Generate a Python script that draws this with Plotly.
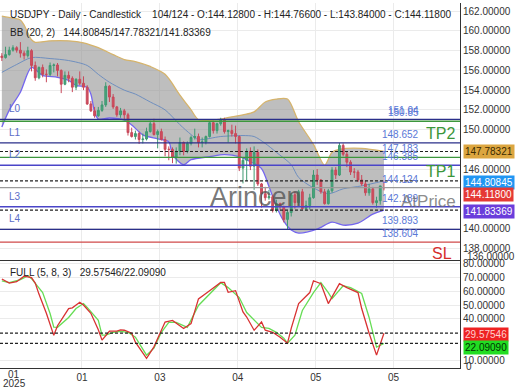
import plotly.graph_objects as go

# ---------------- data ----------------
# candle index 0..103 (daily bars), 124 slots on the axis
opens = [157.45,157.30,157.60,158.05,158.30,158.05,157.75,157.50,158.00,156.50,
         155.25,156.30,155.60,155.60,156.50,156.55,156.00,154.60,155.50,155.20,
         154.30,155.10,154.70,154.30,152.60,151.90,151.40,151.95,152.50,154.40,
         153.30,152.30,151.50,151.90,151.50,149.70,149.30,149.60,149.00,149.05,
         149.80,150.60,149.50,149.80,149.00,148.00,148.00,147.20,147.80,148.70,
         147.80,148.60,149.20,149.30,148.70,148.75,149.30,150.70,149.90,150.60,
         151.00,149.80,149.90,149.60,149.30,146.10,146.90,147.80,146.30,147.70,
         144.50,143.50,143.10,143.20,141.80,142.50,142.20,140.90,141.60,143.40,
         142.60,143.70,142.00,142.30,143.10,145.40,144.90,143.70,142.50,143.80,
         145.90,145.40,148.40,147.50,146.70,145.70,145.70,144.90,144.50,143.60,
         144.00,142.60,142.80,144.128]
highs = [157.75,158.40,158.40,158.55,158.45,158.87,158.00,158.40,158.15,156.90,
         156.40,156.60,156.10,156.80,156.70,156.75,156.10,155.90,155.90,155.40,
         155.20,155.90,155.40,154.50,152.90,152.30,152.30,152.90,154.80,154.50,
         153.60,152.40,152.20,152.10,151.70,150.20,149.90,149.80,149.60,150.20,
         150.90,151.10,150.00,150.10,149.30,148.30,148.20,148.20,149.20,148.80,
         148.80,149.40,150.10,149.60,149.20,149.40,150.80,150.90,150.70,151.20,
         151.20,150.00,150.50,150.40,149.40,147.20,148.10,148.20,148.30,148.00,
         144.60,144.20,143.90,143.40,142.90,142.60,142.30,141.80,143.60,143.70,
         143.90,144.00,142.80,143.50,145.90,146.00,145.00,144.00,144.00,146.20,
         146.20,148.65,148.60,147.80,146.90,146.10,145.90,145.40,144.80,144.50,
         144.20,143.20,144.30,144.766]
lows = [156.95,157.20,157.50,157.90,157.80,157.30,157.10,157.30,155.90,154.95,
        155.10,155.30,154.80,155.40,155.80,155.40,153.70,154.50,154.80,153.80,
        154.00,154.50,154.00,152.50,151.80,151.20,151.30,151.80,152.30,152.80,
        152.10,151.30,151.20,151.00,149.40,149.20,149.00,148.55,148.60,148.90,
        149.70,149.40,148.10,148.90,147.30,146.90,146.60,146.55,147.40,147.40,
        147.60,148.40,149.00,148.20,148.20,148.50,149.20,149.60,149.60,150.40,
        149.60,148.70,149.30,148.60,145.80,144.55,144.80,145.90,143.90,144.30,
        142.10,142.80,142.90,141.60,141.60,141.90,140.60,139.89,141.20,142.00,
        142.30,141.90,141.80,141.90,143.00,144.40,143.50,142.40,142.40,143.60,
        145.00,145.30,147.30,146.20,145.40,145.10,144.70,144.30,143.30,143.30,
        142.40,142.10,142.40,143.84]
closes = [157.30,157.60,158.05,158.30,158.05,157.75,157.50,158.00,156.50,155.25,
          156.30,155.60,155.60,156.50,156.55,156.00,154.60,155.50,155.20,154.30,
          155.10,154.70,154.30,152.60,151.90,151.40,151.95,152.50,154.40,153.30,
          152.30,151.50,151.90,151.50,149.70,149.30,149.60,149.00,149.05,149.80,
          150.60,149.50,149.80,149.00,148.00,148.00,147.20,147.80,148.70,147.80,
          148.60,149.20,149.30,148.70,148.75,149.30,150.70,149.90,150.60,151.00,
          149.80,149.90,149.60,149.30,146.10,146.90,147.80,146.30,147.70,144.50,
          143.50,143.10,143.20,141.80,142.50,142.20,140.90,141.60,143.40,142.60,
          143.70,142.00,142.30,143.10,145.40,144.90,143.70,142.50,143.80,145.90,
          145.40,148.40,147.50,146.70,145.70,145.70,144.90,144.50,143.60,144.00,
          142.60,142.80,144.30,144.118]
bar_index = list(range(len(closes)))

# Bollinger bands (20,2)
bb_upper_x = [0, 3, 5, 6, 7, 8, 9, 13, 18, 22, 26, 30, 33, 36, 40, 44, 48, 51, 53, 56,
              59, 62, 65, 68, 71, 74, 77, 80, 84, 87, 89, 91, 97, 103]
bb_upper = [161.5, 161.3, 161.1, 160.6, 159.8, 159.1, 158.85, 159.0, 159.0, 158.8,
            158.3, 157.6, 157.1, 156.9, 156.4, 155.6, 153.5, 152.0, 151.0, 150.95,
            151.07, 151.3, 151.5, 151.8, 152.8, 153.1, 153.1, 150.8, 148.5, 146.4,
            147.7, 148.0, 148.1, 147.78321]
bb_lower_x = [0, 2, 5, 8, 11, 15, 18, 20, 23, 24, 25, 26, 29, 33, 35, 38, 42, 45, 46,
              49, 51, 56, 60, 64, 67, 70, 72, 74, 76, 78, 80, 85, 89, 92, 96, 100, 103]
bb_lower = [150.27, 151.98, 153.79, 156.3, 155.5, 155.3, 154.99, 154.49, 154.29,
            153.59, 151.78, 151.07, 151.18, 150.97, 150.47, 149.47, 149.07, 148.76,
            147.46, 146.45, 146.95, 147.26, 147.46, 147.26, 146.75, 146.05, 144.24,
            142.23, 140.72, 139.82, 139.52, 139.92, 140.62, 140.32, 140.52, 141.43,
            141.83369]
bb_mid_x = [0, 4, 8, 13, 18, 23, 26, 29, 33, 36, 40, 44, 48, 51, 53, 59, 65, 68, 71,
            74, 78, 80, 84, 88, 92, 97, 103]
bb_mid = [155.8, 156.6, 157.3, 157.2, 157.0, 156.5, 155.6, 154.8, 154.0, 153.6, 152.8,
          152.0, 150.5, 149.5, 149.0, 149.3, 149.4, 149.3, 148.6, 147.7, 146.45, 145.15,
          144.1, 143.5, 144.0, 144.3, 144.80845]

# Full stochastic (5,8,3)
stoch_k_x = [0, 2, 4, 6, 8, 9, 10, 12, 14, 15, 16, 18, 19, 21, 22, 24, 26, 27, 29, 31,
             32, 33, 35, 36, 39, 41, 43, 44, 46, 49, 51, 53, 56, 59, 60, 61, 63, 65, 66,
             68, 70, 71, 73, 75, 77, 78, 80, 83, 84, 86, 88, 91, 93, 96, 97, 99, 101, 103]
stoch_k = [69, 66, 67, 71, 70, 66, 58, 44, 28, 35, 39, 47.5, 48, 52, 50, 44, 32, 24.5,
           31, 31, 32, 31.7, 29.5, 23, 11.3, 19.6, 31.7, 37.7, 38.9, 33, 36.5, 54.5,
           60.5, 66.5, 66.5, 59.3, 60.5, 45, 41.3, 31.7, 37.7, 31.7, 30.2, 26.6, 22.3,
           33.1, 51.1, 59.1, 67.7, 65.6, 51.1, 65.6, 62.7, 59.1, 47.5, 29.5, 13.6, 29.57546]
stoch_d_x = [0, 2, 5, 7, 8, 11, 13, 14, 15, 18, 20, 22, 23, 26, 27, 28, 30, 32, 34, 36,
             39, 41, 43, 45, 47, 50, 53, 56, 59, 61, 64, 66, 69, 70, 72, 74, 76, 77, 79,
             81, 84, 86, 88, 89, 92, 94, 97, 99, 101, 103]
stoch_d = [67.7, 66.3, 68.5, 71.3, 69.2, 59.1, 43.9, 34, 33.8, 41.0, 47.5, 51.1, 48.3,
           38.9, 28.1, 28.1, 30.2, 30.9, 30.2, 26.6, 13.6, 18.7, 30.2, 37.4, 37.4, 33.8,
           49.7, 58.4, 66.3, 62.7, 55.5, 44.6, 36.7, 33.8, 33.1, 30.2, 25.9, 22.3, 28.1,
           46.1, 59.1, 66.3, 59.1, 54.7, 64.1, 62.7, 58.4, 41.0, 19.4, 22.0909]

# level lines
level_names = ["L0", "L1", "L2", "L3", "L4"]
level_values = [151.04, 148.652, 146.385, 142.189, 139.893]
tp_values = [150.85, 147.183]
sl_value = 138.604
level_label_values = [151.04, 150.85, 148.652, 147.183, 146.385, 144.124, 142.189, 139.893, 138.604]
last_price = 144.118

x_tick_vals = [21.6, 42.6, 63.6, 84.6, 105.6]
x_tick_text = ["01", "03", "04", "05", "05"]
price_ticks = [138, 140, 146, 150, 152, 154, 156, 158, 160, 162]
stoch_ticks = [10, 40, 50, 60, 70, 80]

# ---------------- geometry ----------------
H_PLOT = 368.0
W_PLOT = 460.0
split = 108.0 / H_PLOT
PRICE_RANGE = [136.70, 162.83]
STOCH_RANGE = [4.24, 82.16]
FONT = "Liberation Sans, Arial, sans-serif"


def py(p):
    return 1 - p / H_PLOT


def px(p):
    return p / W_PLOT


fig = go.Figure()

fig.add_trace(go.Scatter(x=bb_lower_x, y=bb_lower, mode="lines",
                         line=dict(color="#7466ee", width=1.3, shape="spline", smoothing=0.8),
                         xaxis="x", yaxis="y", hoverinfo="skip"))
fig.add_trace(go.Scatter(x=bb_upper_x, y=bb_upper, mode="lines", fill="tonexty",
                         fillcolor="rgba(150,150,150,0.62)",
                         line=dict(color="#d6b46c", width=1.3, shape="spline", smoothing=0.8),
                         xaxis="x", yaxis="y", hoverinfo="skip"))
fig.add_trace(go.Scatter(x=bb_mid_x, y=bb_mid, mode="lines",
                         line=dict(color="#6f8fbf", width=1, shape="spline", smoothing=0.8),
                         xaxis="x", yaxis="y", hoverinfo="skip"))

fig.add_trace(go.Candlestick(x=bar_index, open=opens, high=highs, low=lows, close=closes,
                             increasing=dict(line=dict(color="#3f9a72", width=1), fillcolor="#48a57c"),
                             decreasing=dict(line=dict(color="#c8485a", width=1), fillcolor="#d0505f"),
                             xaxis="x", yaxis="y3", whiskerwidth=0))

fig.add_trace(go.Scatter(x=stoch_d_x, y=stoch_d, mode="lines",
                         line=dict(color="#66dd55", width=1.3),
                         xaxis="x", yaxis="y2", hoverinfo="skip"))
fig.add_trace(go.Scatter(x=stoch_k_x, y=stoch_k, mode="lines",
                         line=dict(color="#d83232", width=1.3),
                         xaxis="x", yaxis="y2", hoverinfo="skip"))

shapes = []


def hline(val, color, width=1.4, dash="solid", yref="y"):
    shapes.append(dict(type="line", xref="paper", x0=0, x1=1, yref=yref, y0=val, y1=val,
                       line=dict(color=color, width=width, dash=dash)))


for v in level_values:
    hline(v, "#2a2f8a" if v != 146.385 and v != 142.189 else "#4a45c8")
for v in tp_values:
    hline(v, "#3c963c")
hline(sl_value, "#d04a4a")
hline(last_price, "#9a9a9a")
hline(bb_upper[-1], "#222222", 1.2, "3px,2px")
hline(bb_mid[-1], "#222222", 1.2, "3px,2px")
hline(bb_lower[-1], "#222222", 1.2, "3px,2px")
hline(stoch_k[-1], "#222222", 1.2, "3px,2px", "y2")
hline(stoch_d[-1], "#222222", 1.2, "3px,2px", "y2")

ann = []


def text(x, y, s, size=10, color="#222", xanchor="left", yanchor="middle", xref="paper",
         yref="paper", **kw):
    d = dict(x=x, y=y, text=s, showarrow=False, xref=xref, yref=yref, xanchor=xanchor,
             yanchor=yanchor, font=dict(size=size, color=color, family=FONT))
    d.update(kw)
    ann.append(d)


sp = "\u00a0"
text(px(8), py(12), "USDJPY - Daily - Candlestick" + sp * 4 +
     "104/124 - O:144.12800 - H:144.76600 - L:143.84000 - C:144.11800", 10)
text(px(8), py(30), "BB (20, 2)" + sp * 3 + "144.80845/147.78321/141.83369", 10)
text(px(8), py(272), "FULL (5, 8, 3)" + sp * 3 + "29.57546/22.09090", 10)

for name, v in zip(level_names, level_values):
    text(px(7), v, name, 10, "#5a6cc8", yref="y", yanchor="bottom", yshift=3)
for v in level_label_values:
    s = ("%.3f" % v).rstrip("0") if v in (151.04, 150.85) else "%.3f" % v
    text(px(421), v, s, 10, "#5a78d6", xanchor="right", yref="y", yanchor="bottom", yshift=1)

text(px(440), py(132), "TP2", 16, "#3a963a", xanchor="center")
text(px(440), py(170), "TP1", 16, "#3a963a", xanchor="center")
text(px(442), py(253), "SL", 16, "#d62d2d", xanchor="center")
text(px(256), py(196), "Arincen", 27, "rgba(85,85,85,0.8)", xanchor="center")
text(px(428), py(200), "AtPrice", 17, "rgba(110,110,110,0.8)", xanchor="center")

# right-side value boxes


def box(v, s, bg, fg, yref="y", yshift=0):
    text(px(463), v, s, 10, fg, yref=yref, bgcolor=bg, borderpad=1, yshift=yshift)


box(bb_upper[-1], "147.78321", "#dca640", "#3a2a00")
box(bb_mid[-1], "144.80845", "#2196f3", "#ffffff", yshift=-1.5)
box(last_price, "144.11800", "#e53935", "#ffffff", yshift=-6.5)
box(bb_lower[-1], "141.83369", "#6a3ddb", "#ffffff", yshift=-1)
box(stoch_k[-1], "29.57546", "#ee2222", "#ffd0d0", "y2", -1.5)
box(stoch_d[-1], "22.09090", "#22dd22", "#003300", "y2", -4)

text(px(465), py(256), "136.00000", 10, "#333")
text(px(464), py(366), "0", 10, "#333")
text(3.3, py(375), "01", 10, "#333", xanchor="center", xref="x")
text(3.3, py(384), "2025", 10, "#333", xanchor="center", xref="x")

fig.update_layout(
    width=520, height=390,
    margin=dict(l=0, r=60, t=0, b=22),
    paper_bgcolor="white", plot_bgcolor="white",
    showlegend=False,
    font=dict(family=FONT, size=10, color="#333"),
    shapes=shapes, annotations=ann,
    xaxis=dict(domain=[0, 1], range=[-0.5, 123.5], anchor="y2",
               tickvals=x_tick_vals, ticktext=x_tick_text,
               showgrid=True, gridcolor="#ebebeb", zeroline=False, ticks="",
               showline=True, mirror=True, linecolor="#333", linewidth=1,
               rangeslider=dict(visible=False), tickfont=dict(size=10, color="#333")),
    yaxis=dict(domain=[split, 1], range=PRICE_RANGE, side="right", anchor="x",
               tickvals=price_ticks, tickformat=".5f", showgrid=True, gridcolor="#ebebeb",
               zeroline=False, ticks="", showline=True, linecolor="#333", linewidth=1,
               tickfont=dict(size=10, color="#333")),
    yaxis3=dict(overlaying="y", range=PRICE_RANGE, side="right", visible=False,
                showgrid=False, zeroline=False),
    yaxis2=dict(domain=[0, split], range=STOCH_RANGE, side="right", anchor="x",
                tickvals=stoch_ticks, tickformat=".5f", showgrid=True, gridcolor="#ebebeb",
                zeroline=False, ticks="", showline=True, linecolor="#333", linewidth=1,
                tickfont=dict(size=10, color="#333")),
)

fig.write_html("out.html", config={"displayModeBar": False},
               post_script="document.body.style.margin='0px';document.body.style.overflow='hidden';")
